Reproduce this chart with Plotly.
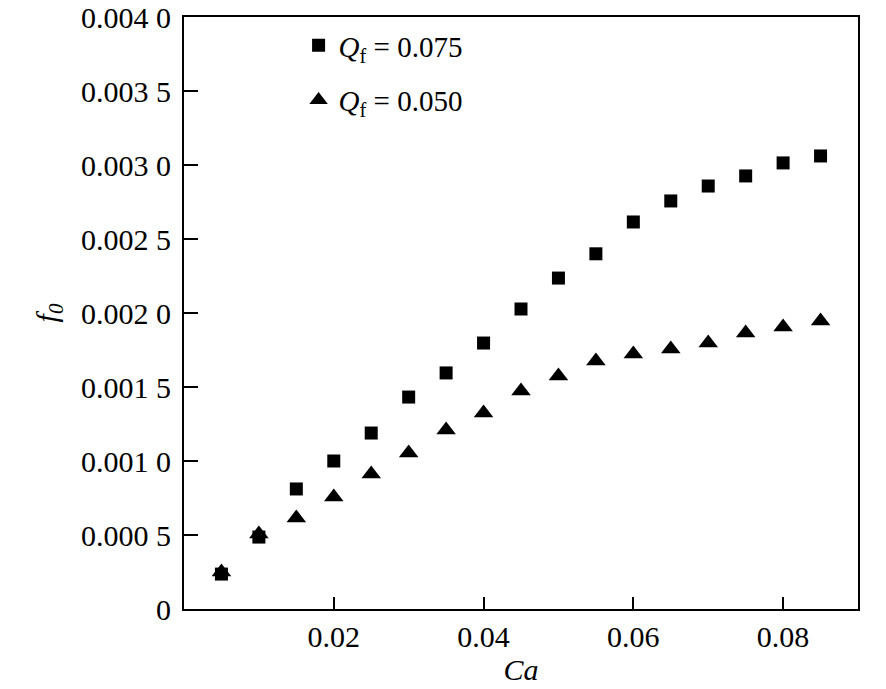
import plotly.graph_objects as go

# Capillary number values
ca = [0.005, 0.010, 0.015, 0.020, 0.025, 0.030, 0.035, 0.040, 0.045,
      0.050, 0.055, 0.060, 0.065, 0.070, 0.075, 0.080, 0.085]

# f0 for Qf = 0.075 (squares) and Qf = 0.050 (triangles)
f0_q075 = [0.000236, 0.000486, 0.000811, 0.001000, 0.001189, 0.001432,
           0.001595, 0.001797, 0.002027, 0.002236, 0.002400, 0.002615,
           0.002757, 0.002858, 0.002926, 0.003014, 0.003061]
f0_q050 = [0.000250, 0.000507, 0.000615, 0.000757, 0.000912, 0.001054,
           0.001210, 0.001324, 0.001473, 0.001574, 0.001676, 0.001723,
           0.001757, 0.001797, 0.001865, 0.001905, 0.001946]

x_ticks = [0.02, 0.04, 0.06, 0.08]
x_labels = ["0.02", "0.04", "0.06", "0.08"]
y_ticks = [0, 0.0005, 0.001, 0.0015, 0.002, 0.0025, 0.003, 0.0035, 0.004]
y_labels = ["0", "0.000 5", "0.001 0", "0.001 5", "0.002 0",
            "0.002 5", "0.003 0", "0.003 5", "0.004 0"]

font_name = "Liberation Serif"

fig = go.Figure()
fig.add_trace(go.Scatter(
    x=ca, y=f0_q075, mode="markers", name="<i>Q</i><sub>f</sub> = 0.075",
    legendgroup="a",
    marker=dict(symbol="square", size=13, color="black")
))
fig.add_trace(go.Scatter(
    x=ca, y=f0_q050, mode="markers", name="<i>Q</i><sub>f</sub> = 0.050",
    legendgroup="b",
    marker=dict(symbol="triangle-up", size=17, color="black")
))

axis_style = dict(
    showline=True, linecolor="black", linewidth=2, mirror=True,
    ticks="inside", tickcolor="black", tickwidth=2,
    showgrid=False, zeroline=False, automargin=False,
    ticklabeloverflow="allow",
    tickfont=dict(family=font_name, size=30, color="black"),
)

fig.update_layout(
    width=886, height=689,
    margin=dict(l=176, r=36, t=9, b=88),
    paper_bgcolor="white", plot_bgcolor="white",
    font=dict(family=font_name, size=30, color="black"),
    showlegend=True,
    legend=dict(
        x=0.17, y=0.995, xanchor="left", yanchor="top",
        bgcolor="rgba(0,0,0,0)", traceorder="grouped", tracegroupgap=14,
        font=dict(family=font_name, size=29, color="black"),
        itemwidth=30,
    ),
    xaxis=dict(axis_style, range=[0, 0.09], tickvals=x_ticks, ticktext=x_labels,
               ticklen=12,
               title=dict(text="<i>Ca</i>", standoff=0,
                          font=dict(family=font_name, size=30, color="black"))),
    yaxis=dict(axis_style, range=[0, 0.004], tickvals=y_ticks, ticktext=y_labels,
               ticklen=14, ticklabelstandoff=5,
               title=dict(text="<i>f</i><sub><i>0</i></sub>", standoff=15,
                          font=dict(family=font_name, size=30, color="black"))),
)

fig.write_html("out.html")
